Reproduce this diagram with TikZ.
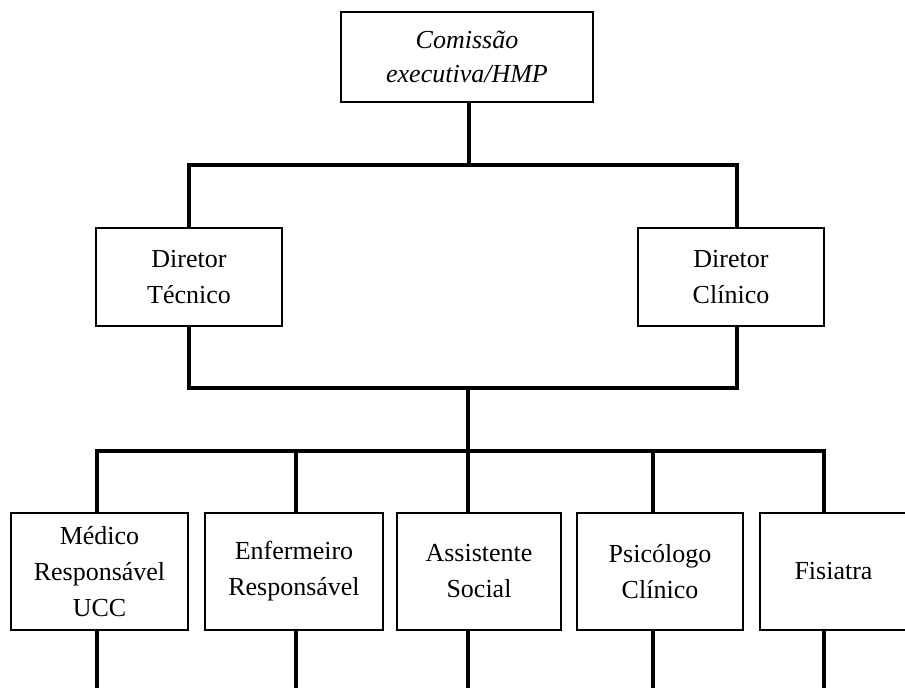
\documentclass[tikz,border=0pt]{standalone}
\usepackage{fontspec}
\setmainfont{Liberation Serif}
\begin{document}
\begin{tikzpicture}[x=1pt,y=-1pt,
    cargo/.style={draw,line width=1.3pt,align=center,inner sep=0pt,
      font=\fontsize{26}{36}\selectfont},
    ligacao/.style={line width=3.3pt}]
  \useasboundingbox (0,0) rectangle (905,688);
  % caixas
  \node[cargo,line width=2pt,minimum width=252pt,minimum height=90pt,
    font=\fontsize{26}{34}\selectfont\itshape] (comissao) at (467,57)
    {Comissão\\executiva/HMP};
  \node[cargo,minimum width=186pt,minimum height=98pt] (tecnico) at (189,277)
    {Diretor\\Técnico};
  \node[cargo,minimum width=186pt,minimum height=98pt] (clinico) at (731,277)
    {Diretor\\Clínico};
  \node[cargo,minimum width=177pt,minimum height=117pt] (medico) at (99.5,571.5)
    {Médico\\Responsável\\UCC};
  \node[cargo,minimum width=178pt,minimum height=117pt] (enfermeiro) at (294,571.5)
    {Enfermeiro\\Responsável};
  \node[cargo,minimum width=164pt,minimum height=117pt] (assistente) at (479,571.5)
    {Assistente\\Social};
  \node[cargo,minimum width=166pt,minimum height=117pt] (psicologo) at (660,571.5)
    {Psicólogo\\Clínico};
  \node[cargo,minimum width=147pt,minimum height=117pt] (fisiatra) at (833.5,571.5)
    {Fisiatra};
  % pontos de juncao
  \coordinate (j1) at (469,165);
  \coordinate (j2) at (468,388);
  \coordinate (j3) at (468,451);
  \coordinate (fim) at (0,692);
  % ligacoes
  \draw[ligacao] ([xshift=2pt]comissao.south) -- (j1);
  \draw[ligacao] (tecnico.north) |- (j1) -| ([xshift=6pt]clinico.north);
  \draw[ligacao] (tecnico.south) |- (j2) -| ([xshift=6pt]clinico.south);
  \draw[ligacao] (j2) -- (j3);
  \draw[ligacao] ([xshift=-2.5pt]medico.north) |- (j3) -| ([xshift=-9.5pt]fisiatra.north);
  \foreach \n/\dx in {enfermeiro/2,assistente/-11,psicologo/-7}
    \draw[ligacao] ([xshift=\dx pt]\n.north) -- ([xshift=\dx pt]\n.north |- j3);
  \foreach \n/\dx in {medico/-2.5,enfermeiro/2,assistente/-11,psicologo/-7,fisiatra/-9.5}
    \draw[ligacao] ([xshift=\dx pt]\n.south) -- ([xshift=\dx pt]\n.south |- fim);
\end{tikzpicture}
\end{document}
